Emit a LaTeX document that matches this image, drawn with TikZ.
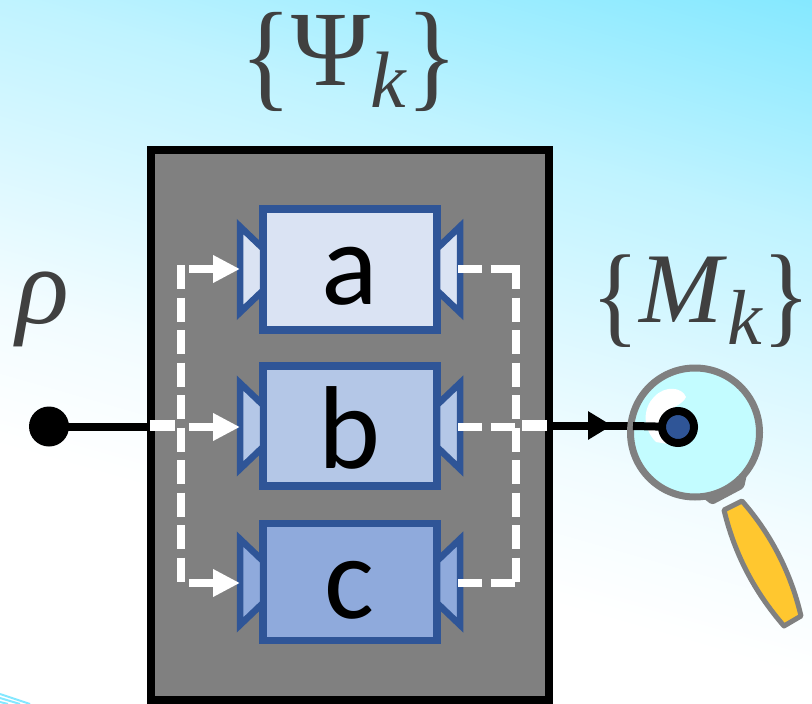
\documentclass[tikz,border=0pt]{standalone}
\usepackage{fontspec}
\setmainfont{Liberation Serif}
\newfontfamily\lblfont{Carlito}
\usetikzlibrary{arrows.meta}
\definecolor{bluedge}{HTML}{2F5597}
\definecolor{fa}{HTML}{DAE3F3}
\definecolor{fb}{HTML}{B4C7E7}
\definecolor{fc}{HTML}{8FAADC}
\definecolor{skyc}{HTML}{84E8FF}
\definecolor{skyb}{HTML}{C0F3FF}
\definecolor{skya}{HTML}{F2FCFF}
\definecolor{lens}{HTML}{C3FCFF}
\definecolor{handle}{HTML}{FFC72F}
\definecolor{txt}{HTML}{404040}
\pgfdeclareverticalshading{bgsh}{100bp}{color(0bp)=(white); color(25bp)=(white); color(35.9bp)=(skya); color(57.9bp)=(skyb); color(75bp)=(skyc); color(100bp)=(skyc)}
\tikzset{
  x=1pt,y=-1pt,
  modbox/.style={draw=bluedge,line width=7.5pt,minimum width=174pt,inner sep=0pt},
  trap/.style={draw=bluedge,line width=6.5pt,miter limit=10},
  wdash/.style={draw=white,line width=8pt,dash pattern=on 24pt off 8.5pt},
  whead/.style={-{Triangle[length=27pt,width=26pt,fill=white,color=white]}},
  wstub/.style={draw=white,line width=10.5pt},
  bline/.style={draw=black,line width=8pt},
  biglabel/.style={text=txt,inner sep=0pt,anchor=base},
}
\newcommand{\tallbrace}[1]{\raisebox{-10pt}{\scalebox{1}[1.12]{#1}}}
\begin{document}
\begin{tikzpicture}
\useasboundingbox (0,0) rectangle (812,704);
\begin{scope}
\clip (0,0) rectangle (812,704);
\fill[white] (0,0) rectangle (812,704);
\begin{scope}[transform canvas={rotate around={-16:(406,352)}}]
\shade[shading=bgsh] (-800,-100) rectangle (1600,556);
\end{scope}
\draw[skyc,line width=2pt] (0,694) -- (30,704) (0,698) -- (20,704) (0,702) -- (8,704);
\end{scope}

% outer box
\node[draw=black,fill=gray,line width=8pt,minimum width=398pt,minimum height=550pt,inner sep=0pt,anchor=north west] (box) at (147,146) {};

% labels
\node[biglabel,font=\fontsize{107}{107}\selectfont] (psi) at (349,85) {\tallbrace{\{}Ψ\raisebox{-22pt}{\itshape\fontsize{80}{80}\selectfont k}\tallbrace{\}}};
\node[biglabel,font=\itshape\fontsize{110}{110}\selectfont] (rho) at (43,323) {ρ};
\node[biglabel,font=\fontsize{100}{100}\selectfont] (mk) at (701,322) {\tallbrace{\{}\textit{M}\raisebox{-22pt}{\itshape\fontsize{78}{78}\selectfont k}\tallbrace{\}}};

% connectors inside
\coordinate (ltop) at (180.5,269);
\coordinate (lmid) at (180.5,427);
\coordinate (lbot) at (180.5,583);
\coordinate (rtop) at (516,269);
\coordinate (rmid) at (516,427);
\coordinate (rbot) at (516,583);
\coordinate (lstart) at (180.5,265);
\coordinate (lend) at (180.5,587);
\coordinate (rstart) at (516,265);
\coordinate (rend) at (516,587);
\coordinate (dot) at (49,426.5);
\coordinate (inleft) at (151,426.5);
\coordinate (outright) at (547,425.5);
\coordinate (dotm) at (678,427);

% modules
\foreach \n/\ycen/\h/\col/\t/\bl in {a/269.5/121/fa/a/35,b/426/120/fb/b/42.5,c/582/117/fc/c/36}{
  \node[modbox,fill=\col,minimum height=\h pt] (\n) at (350,\ycen) {};
  \node[font=\lblfont\fontsize{118}{118}\selectfont,text=black,inner sep=0pt,anchor=base] (t\n) at (349.5,\ycen+\bl) {\t};
  \draw[trap,fill=\col] (263,\ycen-21) -- (240,\ycen-43) -- (240,\ycen+43) -- (263,\ycen+21) -- cycle;
  \draw[trap,fill=\col] (437,\ycen-21) -- (460,\ycen-43) -- (460,\ycen+43) -- (437,\ycen+21) -- cycle;
}

\draw[wdash] (lstart) -- (lend);
\draw[wdash] (rstart) -- (rend);
\draw[wdash,whead,dash phase=24pt] (ltop) -- (240,269);
\draw[wdash,whead,dash phase=24pt] (lmid) -- (240,427);
\draw[wdash,whead,dash phase=24pt] (lbot) -- (240,583);
\draw[wdash] (458,269) -- (rtop);
\draw[wdash] (458,427) -- (rmid);
\draw[wdash] (458,583) -- (rbot);

% input
\draw[bline] (dot) -- (inleft);
\fill[black] (dot) circle (20);
\draw[wstub] (150,425.5) -- (175,425.5);
\draw[wstub] (522,425.5) -- (outright);

% magnifier
\fill[gray,rounded corners=3pt] (703,498) -- (712,505) -- (744,488) -- (747,474) -- cycle;
\draw[bline] (600,425.5) -- (640,425.5);
\node[circle,draw=gray,fill=lens,line width=7pt,minimum size=129pt,inner sep=0pt] (lensc) at (695,432.5) {};
\fill[white] (686,397) .. controls (682,387) and (665,385) .. (654,397)
  .. controls (643,408) and (642,428) .. (656,442) -- (668,444) -- (665,412) .. controls (672,408) and (683,404) .. (686,397) -- cycle;
\draw[draw=gray,line width=5pt,line join=round,fill=handle] (724,510) -- (742,501)
  .. controls (771,534) and (791,573) .. (801,616) -- (784,626)
  .. controls (754.5,592) and (734.5,554) .. (724,510) -- cycle;

\draw[bline,-{Triangle[length=24pt,width=27pt]}] (outright) -- (612,425.5);
\draw[bline] (633,426) -- (dotm);
\node[circle,draw=black,fill=bluedge,line width=8pt,minimum size=32pt,inner sep=0pt] (probe) at (dotm) {};
\end{tikzpicture}
\end{document}
